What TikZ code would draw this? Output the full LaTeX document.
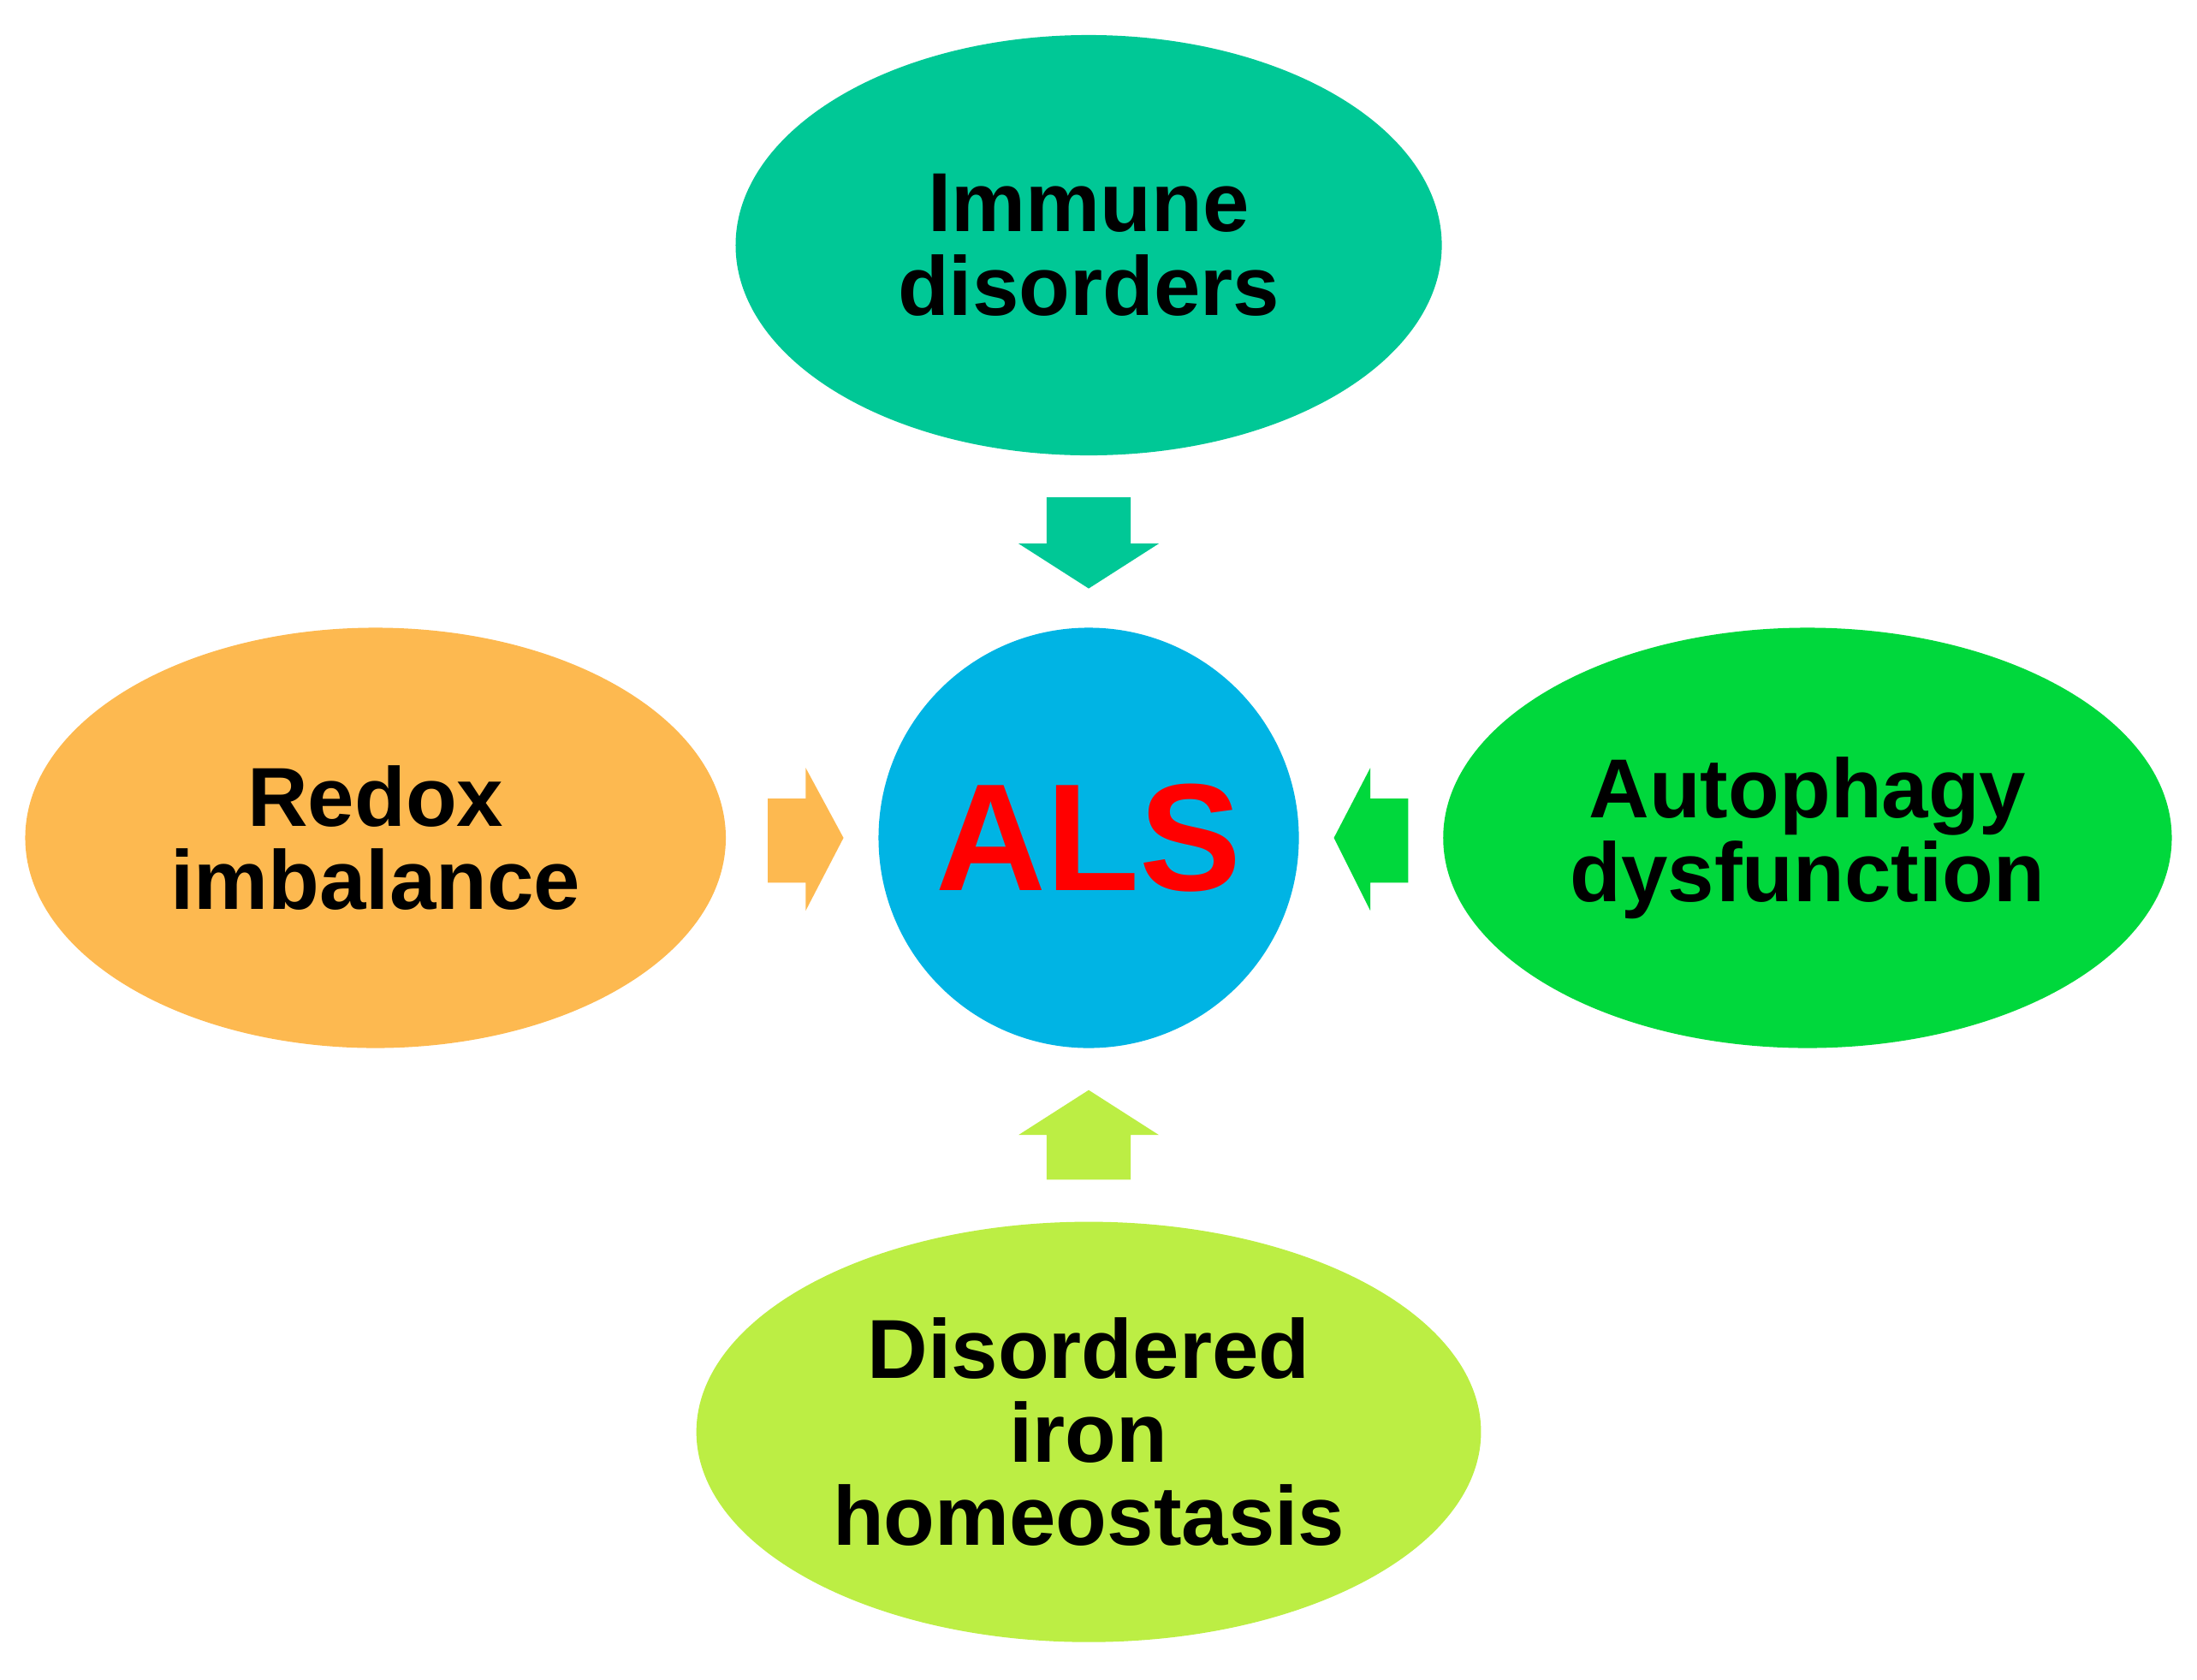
\documentclass[tikz,border=0pt]{standalone}
\usepackage{fontspec}
\setmainfont{Liberation Sans}
\usetikzlibrary{shapes.geometric}
\definecolor{immune}{RGB}{0,200,150}
\definecolor{redox}{RGB}{253,185,80}
\definecolor{autoph}{RGB}{0,216,60}
\definecolor{iron}{RGB}{188,238,68}
\definecolor{als}{RGB}{0,180,228}
\tikzset{
  cause/.style={ellipse, draw=none, align=center, font=\bfseries\fontsize{17}{17}\selectfont, inner sep=0pt},
}
\begin{document}
\begin{tikzpicture}[x=0.1mm, y=-0.1mm]
	\useasboundingbox (0,0) rectangle (1568,1199);
	% centre and causes
	\node[circle, fill=als, minimum size=30mm, font=\bfseries\fontsize{31}{31}\selectfont, text=red] (als) at (777,598) {ALS};
	\node[cause, fill=immune, minimum width=50.4mm, minimum height=30mm] (immune) at (777,175) {Immune\\disorders};
	\node[cause, fill=redox, minimum width=50mm, minimum height=30mm] (redox) at (268,598) {Redox\\imbalance};
	\node[cause, fill=autoph, minimum width=52mm, minimum height=30mm] (autoph) at (1290,598) {Autophagy\\dysfunction};
	\node[cause, fill=iron, minimum width=56mm, minimum height=30mm] (iron) at (777,1022) {Disordered\\iron\\homeostasis};

	% block arrows
	\fill[immune]	(747,355) -- (807,355) -- (807,388) -- (827,388) -- (777,420) -- (727,388) -- (747,388) -- cycle;
	\fill[iron]		(747,842) -- (807,842) -- (807,810) -- (827,810) -- (777,778) -- (727,810) -- (747,810) -- cycle;
	\fill[redox]	(548,570) -- (575,570) -- (575,548) -- (602,598) -- (575,650) -- (575,630) -- (548,630) -- cycle;
	\fill[autoph]	(1005,570) -- (978,570) -- (978,548) -- (952,598) -- (978,650) -- (978,630) -- (1005,630) -- cycle;
\end{tikzpicture}
\end{document}
